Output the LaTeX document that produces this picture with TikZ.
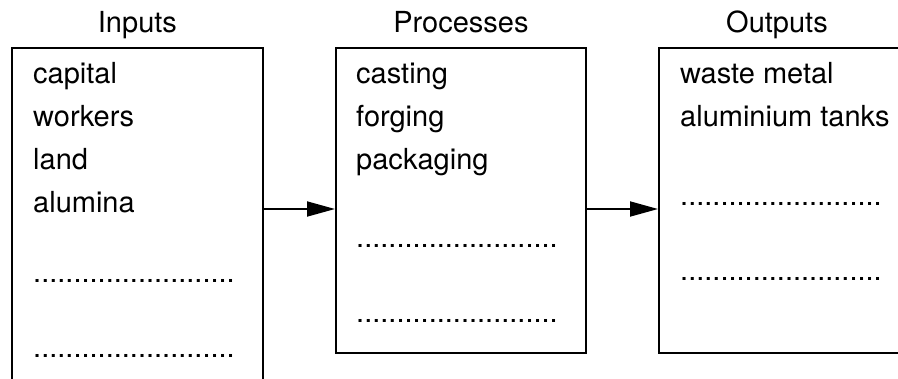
\documentclass[tikz,border=0pt]{standalone}
\usepackage{fontspec}
\setmainfont{TeX Gyre Heros}
\usetikzlibrary{arrows.meta}
\newcommand{\dotrow}{.........................}

\begin{document}
\begin{tikzpicture}[x=1pt,y=-1pt,
	box/.style={draw,line width=1.8pt,inner sep=0pt,anchor=north west},
	item/.style={anchor=base west,inner sep=0pt},
	head/.style={anchor=base,inner sep=0pt},
	arr/.style={line width=1.8pt,-{Triangle[length=28pt,width=15pt]}}]
	\useasboundingbox (0,0) rectangle (898,378);
	\clip (0,0) rectangle (898,378);
	\fontsize{29pt}{43pt}\selectfont
	\node[box,minimum width=251pt,minimum height=345pt] (inbox) at (11,47) {};
	\node[box,minimum width=250pt,minimum height=305pt] (procbox) at (335,47) {};
	\node[box,minimum width=245pt,minimum height=305pt] (outbox) at (658,47) {};
	\node[head] (inhead) at (inbox.north |- 0,32) {Inputs};
	\node[head] (prochead) at (procbox.north |- 0,32) {Processes};
	\node[head] (outhead) at (777,32) {Outputs};
	% inputs
	\node[item] (capital) at (33,83) {capital};
	\node[item] (workers) at (33,126) {workers};
	\node[item] (land) at (33,169) {land};
	\node[item] (alumina) at (33,212) {alumina};
	\node[item] (indotsa) at (33,282) {\dotrow};
	\node[item] (indotsb) at (33,357) {\dotrow};
	% processes
	\node[item] (casting) at (356,83) {casting};
	\node[item] (forging) at (356,126) {forging};
	\node[item] (packaging) at (356,169) {packaging};
	\node[item] (procdotsa) at (356,247) {\dotrow};
	\node[item] (procdotsb) at (356,322) {\dotrow};
	% outputs
	\node[item] (waste) at (680,83) {waste metal};
	\node[item] (tanks) at (680,126) {aluminium tanks};
	\node[item] (outdotsa) at (680,205) {\dotrow};
	\node[item] (outdotsb) at (680,280) {\dotrow};
	% arrows
	\coordinate (flow) at (0,209);
	\draw[arr] (inbox.east |- flow) -- (procbox.west |- flow);
	\draw[arr] (procbox.east |- flow) -- (outbox.west |- flow);
\end{tikzpicture}
\end{document}
